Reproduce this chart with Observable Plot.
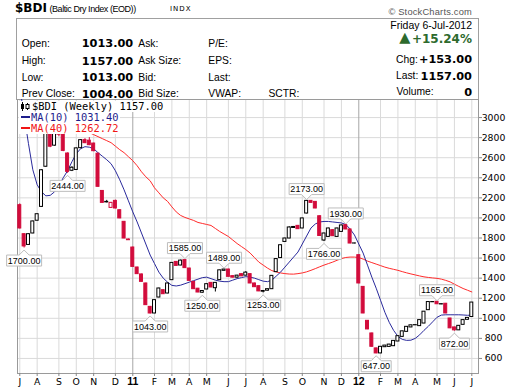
<!DOCTYPE html>
<html><head><meta charset="utf-8">
<script src="https://cdn.jsdelivr.net/npm/d3@7"></script>
<script src="https://cdn.jsdelivr.net/npm/@observablehq/plot@0.6"></script>
<style>
body{margin:0;background:#fff;}
#wrap{position:relative;width:512px;height:391px;overflow:hidden;background:#fff;}
#header{position:absolute;left:0;top:0;width:512px;height:99px;}
#box{position:absolute;left:16px;top:18px;width:461px;height:81px;border:1px solid #a0a0a0;border-bottom:none;}
#chart{position:absolute;left:0;top:99px;}
.lg{position:absolute;left:19px;height:11px;line-height:11px;background:#fff;white-space:nowrap;font-family:"DejaVu Sans Mono",monospace;font-size:10.4px;padding-right:1px;}
.sw{display:inline-block;width:9px;height:2px;vertical-align:middle;margin:0 1px 0 2px;position:relative;top:-1px;}
</style></head>
<body>
<div id="wrap">
  <div id="header"><div id="box"></div></div>
  <div id="chart"></div>
  <div id="legend"></div>
</div>
<script>
// ---- data (weekly, week starting Monday) ----
const firstWeek = "2010-07-05";
const open = [2127,1838,1731,1845,1972,2110,2510,2890,2720,2880,
 2843,2642,2470,2478,2695,2775,2770,2741,2640,2269,
 2155,2100,2170,2077,1961,1785,1705,1506,1437,1347,
 1114,1048,1207,1280,1247,1380,1562,1526,1580,1496,
 1363,1295,1255,1287,1353,1300,1380,1473,1486,1420,
 1405,1440,1425,1440,1347,1320,1265,1275,1290,1460,
 1600,1761,1795,1900,1921,1895,2044,2170,2160,2017,
 1775,1811,1878,1811,1861,1928,1885,1745,1629,1313,
 975,849,700,650,712,715,722,769,815,865,
 909,930,922,948,1081,1160,1165,1138,1145,998,
 909,880,935,985,1013];
const high = [2140,1842,1842,1968,2040,2480,2920,2900,2900,2890,
 2850,2648,2510,2698,2780,2790,2800,2745,2645,2272,
 2175,2155,2177,2080,1965,1790,1710,1510,1440,1350,
 1118,1185,1300,1285,1350,1555,1566,1580,1585,1498,
 1366,1298,1275,1342,1356,1355,1480,1489,1489,1422,
 1428,1442,1465,1443,1350,1322,1275,1292,1425,1595,
 1730,1798,1912,1915,1925,1998,2173,2172,2163,2020,
 1848,1898,1882,1898,1928,1930,1888,1748,1632,1316,
 978,852,703,718,730,740,777,824,872,917,
 932,934,984,1068,1164,1164,1165,1143,1148,1000,
 912,927,984,1006,1157];
const low = [1890,1700,1728,1843,1970,2105,2505,2700,2715,2810,
 2660,2444,2462,2475,2690,2740,2720,2660,2305,2148,
 2150,2094,2090,1993,1793,1776,1510,1438,1361,1129,
 1043,1046,1205,1238,1245,1378,1520,1524,1498,1371,
 1288,1255,1250,1285,1305,1262,1378,1471,1411,1403,
 1400,1416,1423,1345,1308,1266,1253,1273,1288,1458,
 1598,1759,1793,1895,1886,1893,2040,2148,2092,1818,
 1766,1808,1816,1809,1858,1883,1743,1742,1345,1046,
 887,714,647,648,710,713,720,767,813,863,
 907,928,920,946,1079,1158,1138,1136,1046,897,
 872,878,933,983,1013];
const close = [1895,1716,1838,1965,2037,2475,2900,2710,2880,2830,
 2668,2459,2500,2693,2775,2745,2725,2665,2310,2150,
 2160,2150,2094,1995,1795,1778,1512,1440,1363,1131,
 1048,1181,1297,1240,1347,1552,1522,1575,1500,1373,
 1290,1257,1272,1340,1307,1353,1478,1486,1413,1405,
 1425,1418,1455,1347,1310,1268,1272,1290,1423,1590,
 1728,1795,1905,1910,1888,1995,2170,2150,2094,1820,
 1845,1895,1818,1895,1925,1885,1745,1746,1347,1048,
 889,716,650,716,728,738,775,822,870,915,
 930,932,982,1066,1162,1162,1140,1141,1048,900,
 880,925,982,1004,1157];
const ma10 = [3300,3020,2740,2480,2330,2260,2220,2225,2260,2320,
 2400,2470,2560,2640,2690,2710,2705,2690,2650,2615,
 2580,2540,2470,2380,2280,2170,2060,1960,1850,1740,
 1630,1545,1460,1400,1360,1328,1322,1330,1345,1360,
 1375,1390,1405,1410,1395,1380,1370,1365,1365,1380,
 1395,1405,1415,1410,1400,1385,1370,1365,1380,1420,
 1460,1510,1560,1610,1660,1740,1820,1900,1940,1960,
 1965,1965,1960,1955,1950,1935,1890,1830,1740,1650,
 1530,1410,1300,1180,1060,960,880,820,790,780,
 782,800,835,880,920,965,1010,1032,1035,1035,
 1035,1035,1033,1030,1031.40];
const ma40 = [null,null,null,null,null,null,null,null,null,null,
 null,null,3080,3010,2950,2895,2850,2830,2810,2790,
 2770,2750,2715,2680,2650,2610,2570,2520,2460,2410,
 2370,2300,2250,2200,2165,2110,2060,2025,2005,1990,
 1975,1955,1945,1935,1925,1895,1865,1840,1815,1780,
 1745,1715,1685,1650,1605,1560,1530,1500,1475,1462,
 1452,1445,1441,1440,1445,1452,1463,1478,1495,1513,
 1530,1545,1560,1578,1595,1606,1610,1610,1605,1590,
 1570,1555,1540,1525,1510,1498,1488,1478,1465,1453,
 1442,1432,1422,1413,1407,1402,1398,1390,1378,1363,
 1340,1318,1297,1280,1262.72];
// annotated swing points
const annWeek = [1,11,30,38,42,47,56,66,70,75,82,96,100];
const annKind = ["low","low","low","high","low","high","low","high","low","high","low","high","low"];
// month ticks (first Monday of month) and their labels
const tickDates = ["2010-07-05","2010-08-02","2010-09-06","2010-10-04","2010-11-01","2010-12-06",
 "2011-01-03","2011-02-07","2011-03-07","2011-04-04","2011-05-02","2011-06-06","2011-07-04",
 "2011-08-01","2011-09-05","2011-10-03","2011-11-07","2011-12-05","2012-01-02","2012-02-06",
 "2012-03-05","2012-04-02","2012-05-07","2012-06-04","2012-07-02"];
const tickLabels = ["J","A","S","O","N","D","11","F","M","A","M","J","J","A","S","O","N","D","12","F","M","A","M","J","J"];
const yTicks = [600,800,1000,1200,1400,1600,1800,2000,2200,2400,2600,2800,3000];

// ---- build ----
const start = new Date(firstWeek + "T00:00Z");
const weeks = d3.utcMonday.range(start, d3.utcMonday.offset(start, open.length));
const RED = "#d20c3c", BLK = "#000";
const rows = weeks.map((d, i) => ({date: d, o: open[i], h: high[i], l: low[i], c: close[i],
  prev: i ? close[i - 1] : open[i]}));
const col = r => (r.c < r.prev ? RED : BLK);
const fillOf = r => (r.c > r.o ? "#fff" : col(r));
const maRows = weeks.map((d, i) => ({date: d, a: ma10[i], b: ma40[i]}));
const ann = annWeek.map((w, k) => {
  const v = annKind[k] === "low" ? low[w] : high[w];
  return {date: weeks[w], v, kind: annKind[k], text: v.toFixed(2)};
});
const ticks = tickDates.map(s => new Date(s + "T00:00Z"));
const labelOf = new Map(ticks.map((d, i) => [+d, tickLabels[i]]));
const isYear = d => /^\d+$/.test(labelOf.get(+d));
const H = 58 * 3600 * 1000;

// label box with pointer (callout), drawn as a custom dot symbol
function boxSymbol(kind, w) {
  const h = w / 2, s = kind === "low" ? 1 : -1;
  const a = kind === "low" ? 2 : -1;
  return {draw(c) {
    c.moveTo(0, a); c.lineTo(5, a + 5 * s); c.lineTo(h, a + 5 * s); c.lineTo(h, a + 16 * s);
    c.lineTo(-h, a + 16 * s); c.lineTo(-h, a + 5 * s); c.lineTo(-5, a + 5 * s); c.closePath();
  }};
}
const calloutMarks = [];
for (const kind of ["low", "high"]) {
  for (const len of [6, 7]) {
    const sub = ann.filter(d => d.kind === kind && d.text.length === len);
    if (!sub.length) continue;
    calloutMarks.push(Plot.dot(sub, {x: "date", y: "v", symbol: boxSymbol(kind, len === 7 ? 35 : 30),
      fill: "white", stroke: "#bdbdbd", strokeWidth: 1}));
    calloutMarks.push(Plot.text(sub, {x: "date", y: "v", text: "text", dy: kind === "low" ? 12.7 : -11.2,
      fontSize: 9, fontFamily: "Liberation Sans, Arial, sans-serif", fill: "#000", textAnchor: "middle", lineAnchor: "middle"}));
  }
}

const chart = Plot.plot({
  width: 512, height: 292,
  marginLeft: 17, marginRight: 34, marginTop: 0, marginBottom: 18,
  style: {fontFamily: "DejaVu Sans, sans-serif", fontSize: "9.3px", color: "#000", background: "transparent", overflow: "visible"},
  x: {type: "utc", domain: [new Date("2010-07-01T08:00Z"), new Date("2012-07-12T19:00Z")]},
  y: {domain: [450, 3180]},
  marks: [
    Plot.ruleY(yTicks, {stroke: "#dadada"}),
    Plot.ruleX(ticks.filter(d => !isYear(d)), {stroke: "#dadada"}),
    Plot.ruleX(ticks.filter(isYear), {stroke: "#a6a6a6"}),
    Plot.frame({stroke: "#9a9a9a"}),
    Plot.line(maRows, {x: "date", y: "b", stroke: "#ff2b2b", strokeWidth: 1, clip: true}),
    Plot.line(maRows, {x: "date", y: "a", stroke: "#2a2a9c", strokeWidth: 1, clip: true}),
    Plot.ruleX(rows, {x: "date", y1: "l", y2: "h", stroke: col}),
    Plot.rect(rows, {x1: d => new Date(+d.date - H), x2: d => new Date(+d.date + H), y1: "o", y2: "c",
      fill: fillOf, stroke: col, strokeWidth: 1}),
    ...calloutMarks,
    Plot.axisY(yTicks, {anchor: "right", tickSize: 3, tickPadding: 12, textAnchor: "middle", label: null,
      tickFormat: d => String(d), stroke: "#888"}),
    Plot.axisX(ticks.filter(d => !isYear(d)), {anchor: "bottom", tickSize: 3, tickPadding: 2, label: null,
      tickFormat: d => labelOf.get(+d), fontSize: 9.3, stroke: "#888"}),
    Plot.axisX(ticks.filter(isYear), {anchor: "bottom", tickSize: 3, tickPadding: 1.5, label: null,
      tickFormat: d => labelOf.get(+d), fontSize: 10.5, fontWeight: "bold",
      fontFamily: "Liberation Sans, Arial, sans-serif", stroke: "#888"})
  ]
});
document.getElementById("chart").appendChild(chart);

// ---- header ----
const hdr = document.getElementById("header");
const LS = '"Liberation Sans", Arial, sans-serif', DJ = '"DejaVu Sans", sans-serif';
function put(txt, x, cy, o = {}) {
  const s = document.createElement("span");
  s.textContent = txt;
  const size = o.size || 10.3;
  s.style.cssText = `position:absolute;white-space:nowrap;line-height:1;font-size:${size}px;` +
    `font-family:${o.font || LS};font-weight:${o.weight || "normal"};color:${o.color || "#000"};` +
    `top:${(cy - 0.49 * size).toFixed(1)}px;letter-spacing:${o.ls || 0}px;`;
  if (o.right) s.style.right = (512 - x) + "px"; else s.style.left = x + "px";
  hdr.appendChild(s);
}
const n = close.length - 1;
const last = close[n], prevClose = close[n - 1], chg = last - prevClose;
put("$BDI", 15, 8, {size: 12, font: DJ, weight: "bold"});
put("(Baltic Dry Index (EOD))", 49.5, 9, {size: 9, ls: -0.45});
put("INDX", 170, 9.2, {size: 7, font: DJ, ls: 1});
put("\u00A9 StockCharts.com", 472, 12.7, {size: 9.3, color: "#555", right: true, ls: 0.2});
put("Friday  6-Jul-2012", 472, 25, {size: 10.5, right: true});
put("\u25B2", 410.5, 37.5, {size: 14.5, font: DJ, color: "#2d6a2d", right: true});
put("+" + (chg / prevClose * 100).toFixed(2) + "%", 472, 38.5, {size: 12, font: DJ, weight: "bold", color: "#2d6a2d", right: true});
const rowY = [43.5, 61, 77.5, 94];
const v = x => x.toFixed(2);
[["Open:", v(open[n])], ["High:", v(high[n])], ["Low:", v(low[n])], ["Prev Close:", v(prevClose)]].forEach((p, k) => {
  put(p[0], 21.7, rowY[k]);
  put(p[1], 81.7, rowY[k] + 0.3, {size: 11.3, font: DJ, weight: "bold"});
});
["Ask:", "Ask Size:", "Bid:", "Bid Size:"].forEach((t, k) => put(t, 138.3, rowY[k]));
["P/E:", "EPS:", "Last:", "VWAP:"].forEach((t, k) => put(t, 208.3, rowY[k]));
put("SCTR:", 268.5, rowY[3]);
put("Chg:", 396, 59.5); put((chg >= 0 ? "+" : "") + v(chg), 472, 59.8, {size: 11.3, font: DJ, weight: "bold", right: true});
put("Last:", 396, 76); put(v(last), 472, 76.3, {size: 11.3, font: DJ, weight: "bold", right: true});
put("Volume:", 396.5, 92); put("0", 472, 92.3, {size: 11.3, font: DJ, weight: "bold", right: true});

// ---- in-chart legend ----
const lg = document.getElementById("legend");
function lgLine(top, html, color) {
  const d = document.createElement("div");
  d.className = "lg"; d.style.top = top + "px"; d.style.color = color;
  d.innerHTML = html; lg.appendChild(d);
}
const icon = '<svg width="10" height="9" style="vertical-align:-1px;margin:0 2px 0 1px"><line x1="2.5" y1="0" x2="2.5" y2="9" stroke="#000"/><rect x="1" y="2" width="3" height="5" fill="#000"/><line x1="7.5" y1="1" x2="7.5" y2="8" stroke="#000"/><rect x="6" y="2.5" width="3" height="4" fill="#fff" stroke="#000"/></svg>';
lgLine(100.5, icon + "$BDI (Weekly) " + v(last), "#000");
lgLine(111.8, '<span class="sw" style="background:#1e1e8c"></span>MA(10) ' + v(ma10[n]), "#1e1e8c");
lgLine(122.5, '<span class="sw" style="background:#f01515"></span>MA(40) ' + v(ma40[n]), "#f01515");
</script>
</body></html>
